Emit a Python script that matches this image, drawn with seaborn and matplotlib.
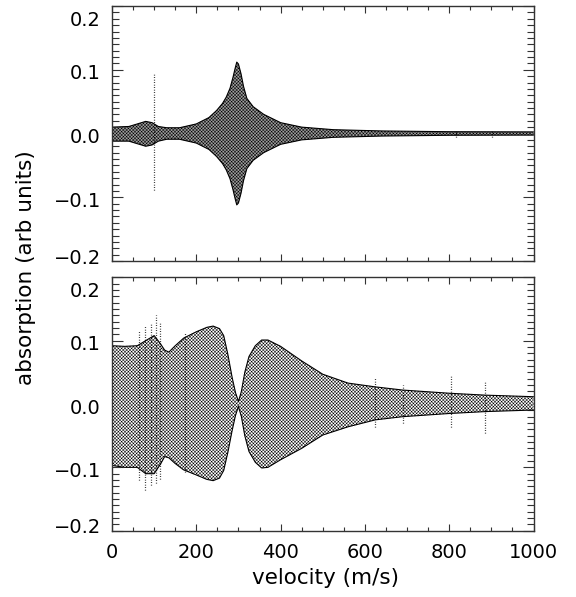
import numpy as np
import pandas as pd
import matplotlib
matplotlib.use("Agg")
import matplotlib.pyplot as plt
import matplotlib.transforms as mtransforms
from matplotlib.ticker import MultipleLocator
import seaborn as sns

# top panel envelope (velocity in m/s, absorption in arb units)
top_vel = [0, 40, 60, 80, 95, 110, 130, 160, 200, 230, 248, 262, 271, 280, 287, 292, 296,
           300, 306, 312, 320, 335, 360, 400, 450, 525, 640, 800, 1000]
top_upper = [0.010, 0.011, 0.015, 0.019, 0.017, 0.011, 0.009, 0.009, 0.015, 0.025, 0.036,
             0.047, 0.057, 0.071, 0.088, 0.102, 0.112, 0.109, 0.094, 0.074, 0.055, 0.042,
             0.030, 0.017, 0.010, 0.006, 0.004, 0.0028, 0.0025]
top_lower = [-0.012, -0.012, -0.016, -0.020, -0.018, -0.012, -0.009, -0.009, -0.015, -0.025,
             -0.036, -0.047, -0.057, -0.071, -0.088, -0.102, -0.112, -0.109, -0.094, -0.074,
             -0.055, -0.042, -0.030, -0.017, -0.010, -0.006, -0.004, -0.0028, -0.0025]
top_spike_vel = [99, 815, 902]
top_spike_hi = [0.095, 0.006, 0.006]
top_spike_lo = [-0.088, -0.006, -0.006]

# bottom panel envelope
bot_vel = [0, 30, 60, 80, 100, 115, 125, 135, 150, 170, 200, 225, 240, 255, 265, 275, 285,
           293, 300, 307, 315, 325, 340, 355, 370, 400, 450, 500, 560, 625, 690, 800, 885, 1000]
bot_upper = [0.092, 0.091, 0.092, 0.100, 0.108, 0.095, 0.085, 0.082, 0.092, 0.104, 0.114,
             0.121, 0.123, 0.119, 0.108, 0.078, 0.042, 0.018, 0.004, 0.020, 0.050, 0.075,
             0.092, 0.101, 0.101, 0.091, 0.068, 0.047, 0.033, 0.027, 0.022, 0.017, 0.014, 0.0115]
bot_lower = [-0.097, -0.100, -0.100, -0.110, -0.110, -0.095, -0.083, -0.085, -0.094, -0.104,
             -0.112, -0.119, -0.121, -0.117, -0.105, -0.076, -0.042, -0.018, -0.004, -0.020,
             -0.050, -0.075, -0.092, -0.101, -0.100, -0.088, -0.070, -0.049, -0.036, -0.025,
             -0.020, -0.015, -0.012, -0.0095]
bot_spike_vel = [65, 78, 92, 104, 115, 173, 625, 690, 805, 885]
bot_spike_hi = [0.115, 0.125, 0.128, 0.140, 0.130, 0.112, 0.041, 0.030, 0.046, 0.037]
bot_spike_lo = [-0.120, -0.135, -0.128, -0.125, -0.118, -0.108, -0.036, -0.030, -0.036, -0.045]

top = pd.DataFrame({"velocity": top_vel, "upper": top_upper, "lower": top_lower})
bot = pd.DataFrame({"velocity": bot_vel, "upper": bot_upper, "lower": bot_lower})

sns.set_style("ticks")
plt.rcParams["font.family"] = ["DejaVu Sans"]
plt.rcParams["hatch.linewidth"] = 0.35
plt.rcParams["text.color"] = "black"
plt.rcParams["xtick.color"] = "black"
plt.rcParams["ytick.color"] = "black"

fig = plt.figure(figsize=(5.76, 5.97), dpi=100)
W, H = 576, 597
ax1 = fig.add_axes([112 / W, 1 - 261 / H, 421.5 / W, 255 / H])
ax2 = fig.add_axes([112 / W, 1 - 530.7 / H, 421.5 / W, 253.4 / H])


def draw_panel(ax, df, sv, shi, slo, face):
    ax.fill_between(df["velocity"], df["lower"], df["upper"], facecolor=face,
                    edgecolor="black", hatch="xxxxxxxxxx", linewidth=0)
    sns.lineplot(data=df, x="velocity", y="upper", ax=ax, color="black", lw=0.8)
    sns.lineplot(data=df, x="velocity", y="lower", ax=ax, color="black", lw=0.8)
    ax.vlines(sv, slo, shi, colors="black", linewidth=0.9, linestyles=(0, (0.6, 1.4)))
    ax.set_xlim(0, 1000)
    ax.set_ylim(-0.2, 0.2)
    ax.set_xlabel("")
    ax.set_ylabel("")
    ax.xaxis.set_major_locator(MultipleLocator(200))
    ax.xaxis.set_minor_locator(MultipleLocator(50))
    ax.yaxis.set_major_locator(MultipleLocator(0.1))
    ax.yaxis.set_minor_locator(MultipleLocator(0.01))
    ax.tick_params(which="both", direction="in", top=True, right=True, labelsize=14,
                   color="#333333", labelcolor="black", width=0.8)
    ax.tick_params(axis="x", which="major", length=5, pad=9)
    ax.tick_params(axis="x", which="minor", length=3)
    ax.tick_params(axis="y", which="major", length=8, pad=8)
    ax.tick_params(axis="y", which="minor", length=5)
    ax.set_yticks([-0.2, -0.1, 0.0, 0.1, 0.2])
    ax.set_yticklabels(["\u22120.2", "\u22120.1", "0.0", "0.1", "0.2"])
    for s in ax.spines.values():
        s.set_visible(True)
        s.set_linewidth(1.0)
        s.set_color("#333333")
    # keep the end labels inside the frame, as the original does
    labs = ax.get_yticklabels()
    shifts = [5, -2, -2, -2, -12]
    for lab, dy in zip(labs, shifts):
        lab.set_transform(lab.get_transform() +
                          mtransforms.ScaledTranslation(0, dy / 100, fig.dpi_scale_trans))


draw_panel(ax1, top, top_spike_vel, top_spike_hi, top_spike_lo, "0.62")
draw_panel(ax2, bot, bot_spike_vel, bot_spike_hi, bot_spike_lo, "white")
ax1.tick_params(axis="x", labelbottom=False)

fig.text(326 / W, 1 - 578 / H, "velocity (m/s)", ha="center", va="center", fontsize=15.5)
fig.text(26 / W, 1 - 267.5 / H, "absorption (arb units)", ha="center", va="center",
         rotation=90, fontsize=15.5)

fig.savefig("out.png", dpi=100)
